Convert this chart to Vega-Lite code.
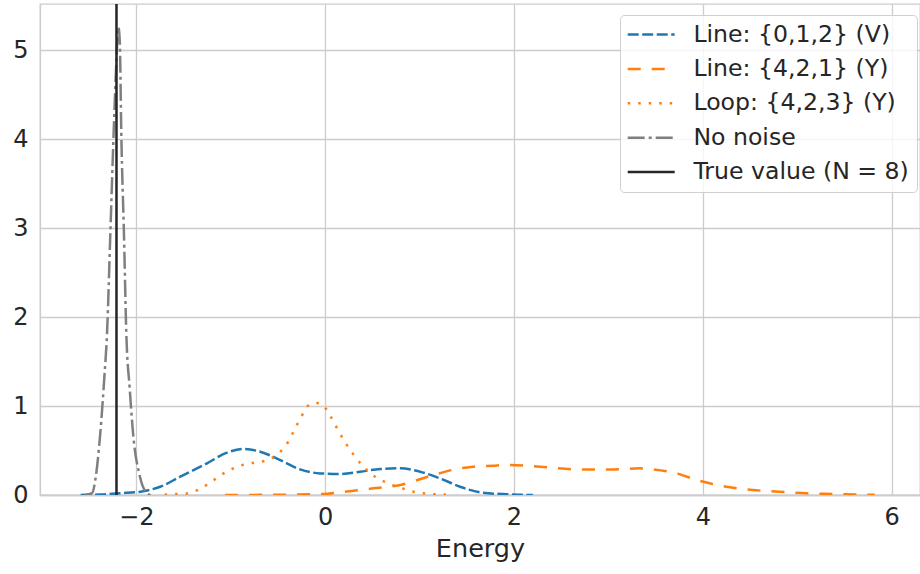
{
  "$schema": "https://vega.github.io/schema/vega-lite/v6.json",
  "width": 880,
  "height": 491,
  "autosize": {"type": "none"},
  "padding": {"left": 40, "top": 4, "right": 0, "bottom": 79},
  "background": "white",
  "config": {
    "font": "DejaVu Sans",
    "view": {"stroke": "#cccccc", "strokeWidth": 1.3},
    "axis": {
      "labelFont": "DejaVu Sans", "titleFont": "DejaVu Sans",
      "labelFontSize": 24, "titleFontSize": 25.5,
      "labelColor": "#262626", "titleColor": "#262626",
      "titleFontWeight": "normal",
      "gridColor": "#cccccc", "gridWidth": 1.3,
      "domainColor": "#cccccc", "domainWidth": 1.3,
      "ticks": false
    }
  },
  "datasets": {
    "curves": [
      {"series": "Line: {0,1,2} (V)", "x": -2.59, "y": 0},
      {"series": "Line: {0,1,2} (V)", "x": -2.38, "y": 0.005},
      {"series": "Line: {0,1,2} (V)", "x": -2.17, "y": 0.02},
      {"series": "Line: {0,1,2} (V)", "x": -1.958, "y": 0.037},
      {"series": "Line: {0,1,2} (V)", "x": -1.746, "y": 0.093},
      {"series": "Line: {0,1,2} (V)", "x": -1.534, "y": 0.206},
      {"series": "Line: {0,1,2} (V)", "x": -1.252, "y": 0.356},
      {"series": "Line: {0,1,2} (V)", "x": -1.04, "y": 0.476},
      {"series": "Line: {0,1,2} (V)", "x": -0.865, "y": 0.517},
      {"series": "Line: {0,1,2} (V)", "x": -0.688, "y": 0.487},
      {"series": "Line: {0,1,2} (V)", "x": -0.476, "y": 0.393},
      {"series": "Line: {0,1,2} (V)", "x": -0.265, "y": 0.288},
      {"series": "Line: {0,1,2} (V)", "x": -0.053, "y": 0.243},
      {"series": "Line: {0,1,2} (V)", "x": 0.159, "y": 0.236},
      {"series": "Line: {0,1,2} (V)", "x": 0.37, "y": 0.262},
      {"series": "Line: {0,1,2} (V)", "x": 0.582, "y": 0.292},
      {"series": "Line: {0,1,2} (V)", "x": 0.794, "y": 0.3},
      {"series": "Line: {0,1,2} (V)", "x": 1.005, "y": 0.262},
      {"series": "Line: {0,1,2} (V)", "x": 1.217, "y": 0.187},
      {"series": "Line: {0,1,2} (V)", "x": 1.429, "y": 0.093},
      {"series": "Line: {0,1,2} (V)", "x": 1.64, "y": 0.03},
      {"series": "Line: {0,1,2} (V)", "x": 1.923, "y": 0.008},
      {"series": "Line: {0,1,2} (V)", "x": 2.2, "y": 0},

      {"series": "Line: {4,2,1} (Y)", "x": -1.06, "y": 0},
      {"series": "Line: {4,2,1} (Y)", "x": -0.5, "y": 0.003},
      {"series": "Line: {4,2,1} (Y)", "x": 0.0, "y": 0.012},
      {"series": "Line: {4,2,1} (Y)", "x": 0.159, "y": 0.03},
      {"series": "Line: {4,2,1} (Y)", "x": 0.511, "y": 0.075},
      {"series": "Line: {4,2,1} (Y)", "x": 0.794, "y": 0.112},
      {"series": "Line: {4,2,1} (Y)", "x": 1.146, "y": 0.225},
      {"series": "Line: {4,2,1} (Y)", "x": 1.429, "y": 0.3},
      {"series": "Line: {4,2,1} (Y)", "x": 1.57, "y": 0.318},
      {"series": "Line: {4,2,1} (Y)", "x": 1.78, "y": 0.33},
      {"series": "Line: {4,2,1} (Y)", "x": 1.92, "y": 0.337},
      {"series": "Line: {4,2,1} (Y)", "x": 2.275, "y": 0.318},
      {"series": "Line: {4,2,1} (Y)", "x": 2.698, "y": 0.288},
      {"series": "Line: {4,2,1} (Y)", "x": 3.05, "y": 0.288},
      {"series": "Line: {4,2,1} (Y)", "x": 3.333, "y": 0.3},
      {"series": "Line: {4,2,1} (Y)", "x": 3.47, "y": 0.288},
      {"series": "Line: {4,2,1} (Y)", "x": 3.72, "y": 0.243},
      {"series": "Line: {4,2,1} (Y)", "x": 3.96, "y": 0.161},
      {"series": "Line: {4,2,1} (Y)", "x": 4.25, "y": 0.093},
      {"series": "Line: {4,2,1} (Y)", "x": 4.53, "y": 0.056},
      {"series": "Line: {4,2,1} (Y)", "x": 4.81, "y": 0.037},
      {"series": "Line: {4,2,1} (Y)", "x": 5.1, "y": 0.019},
      {"series": "Line: {4,2,1} (Y)", "x": 5.38, "y": 0.011},
      {"series": "Line: {4,2,1} (Y)", "x": 5.73, "y": 0.004},
      {"series": "Line: {4,2,1} (Y)", "x": 5.82, "y": 0.002},

      {"series": "Loop: {4,2,3} (Y)", "x": -1.7, "y": 0.002},
      {"series": "Loop: {4,2,3} (Y)", "x": -1.64, "y": 0.008},
      {"series": "Loop: {4,2,3} (Y)", "x": -1.48, "y": 0.015},
      {"series": "Loop: {4,2,3} (Y)", "x": -1.34, "y": 0.06},
      {"series": "Loop: {4,2,3} (Y)", "x": -1.21, "y": 0.146},
      {"series": "Loop: {4,2,3} (Y)", "x": -1.08, "y": 0.24},
      {"series": "Loop: {4,2,3} (Y)", "x": -0.94, "y": 0.315},
      {"series": "Loop: {4,2,3} (Y)", "x": -0.794, "y": 0.356},
      {"series": "Loop: {4,2,3} (Y)", "x": -0.635, "y": 0.385},
      {"series": "Loop: {4,2,3} (Y)", "x": -0.494, "y": 0.468},
      {"series": "Loop: {4,2,3} (Y)", "x": -0.397, "y": 0.59},
      {"series": "Loop: {4,2,3} (Y)", "x": -0.323, "y": 0.738},
      {"series": "Loop: {4,2,3} (Y)", "x": -0.249, "y": 0.888},
      {"series": "Loop: {4,2,3} (Y)", "x": -0.16, "y": 1.022},
      {"series": "Loop: {4,2,3} (Y)", "x": -0.09, "y": 1.035},
      {"series": "Loop: {4,2,3} (Y)", "x": -0.025, "y": 1.011},
      {"series": "Loop: {4,2,3} (Y)", "x": 0.063, "y": 0.873},
      {"series": "Loop: {4,2,3} (Y)", "x": 0.141, "y": 0.722},
      {"series": "Loop: {4,2,3} (Y)", "x": 0.219, "y": 0.58},
      {"series": "Loop: {4,2,3} (Y)", "x": 0.307, "y": 0.446},
      {"series": "Loop: {4,2,3} (Y)", "x": 0.406, "y": 0.318},
      {"series": "Loop: {4,2,3} (Y)", "x": 0.529, "y": 0.206},
      {"series": "Loop: {4,2,3} (Y)", "x": 0.67, "y": 0.131},
      {"series": "Loop: {4,2,3} (Y)", "x": 0.818, "y": 0.075},
      {"series": "Loop: {4,2,3} (Y)", "x": 0.963, "y": 0.03},
      {"series": "Loop: {4,2,3} (Y)", "x": 1.122, "y": 0.011},
      {"series": "Loop: {4,2,3} (Y)", "x": 1.28, "y": 0.004},

      {"series": "No noise", "x": -2.55, "y": 0},
      {"series": "No noise", "x": -2.469, "y": 0.02},
      {"series": "No noise", "x": -2.43, "y": 0.2},
      {"series": "No noise", "x": -2.381, "y": 0.7},
      {"series": "No noise", "x": -2.34, "y": 1.3},
      {"series": "No noise", "x": -2.31, "y": 1.82},
      {"series": "No noise", "x": -2.275, "y": 2.94},
      {"series": "No noise", "x": -2.24, "y": 4.07},
      {"series": "No noise", "x": -2.21, "y": 4.9},
      {"series": "No noise", "x": -2.19, "y": 5.26},
      {"series": "No noise", "x": -2.175, "y": 5.1},
      {"series": "No noise", "x": -2.159, "y": 4.07},
      {"series": "No noise", "x": -2.13, "y": 2.9},
      {"series": "No noise", "x": -2.106, "y": 1.82},
      {"series": "No noise", "x": -2.07, "y": 1.2},
      {"series": "No noise", "x": -2.035, "y": 0.7},
      {"series": "No noise", "x": -1.96, "y": 0.2},
      {"series": "No noise", "x": -1.887, "y": 0.02},
      {"series": "No noise", "x": -1.85, "y": 0}
    ],
    "truth": [
      {"series": "True value (N = 8)", "x": -2.21}
    ]
  },
  "layer": [
    {
      "data": {"name": "curves"},
      "mark": {"type": "line", "strokeWidth": 2.5, "interpolate": "monotone", "clip": true},
      "encoding": {
        "x": {"field": "x", "type": "quantitative", "title": "Energy",
              "scale": {"domain": [-3.02, 6.3], "nice": false, "zero": false},
              "axis": {"values": [-2, 0, 2, 4, 6], "labelPadding": 10, "titlePadding": 7, "format": "d", "labelExpr": "replace(datum.label, '-', '\u2212')"}},
        "y": {"field": "y", "type": "quantitative", "title": null,
              "scale": {"domain": [0, 5.52], "nice": false},
              "axis": {"values": [0, 1, 2, 3, 4, 5], "labelPadding": 12}},
        "color": {"field": "series", "type": "nominal", "title": null,
                  "scale": {"domain": ["Line: {0,1,2} (V)", "Line: {4,2,1} (Y)", "Loop: {4,2,3} (Y)", "No noise", "True value (N = 8)"],
                            "range": ["#1f77b4", "#ff7f0e", "#ff7f0e", "#7f7f7f", "#262626"]},
                  "legend": {
                    "orient": "none", "legendX": 580, "legendY": 11,
                    "symbolType": "M-4,0H4", "symbolSize": 138, "symbolStrokeWidth": 2.5,
                    "symbolOffset": 11.7,
                    "labelFontSize": 23.6, "labelFont": "DejaVu Sans", "labelColor": "#262626",
                    "labelLimit": 400, "labelOffset": 30.4,
                    "fillColor": "rgba(255,255,255,0.8)", "strokeColor": "#d0d0d0",
                    "cornerRadius": 4, "padding": 7.7, "rowPadding": 9.4
                  }},
        "strokeDash": {"field": "series", "type": "nominal", "title": null,
                  "scale": {"domain": ["Line: {0,1,2} (V)", "Line: {4,2,1} (Y)", "Loop: {4,2,3} (Y)", "No noise", "True value (N = 8)"],
                            "range": [[11, 3.5], [13, 11], [2.5, 8], [17, 4, 3, 4], [1, 0]]}},
        "order": {"field": "x", "type": "quantitative"}
      }
    },
    {
      "data": {"name": "truth"},
      "mark": {"type": "rule", "strokeWidth": 2.5},
      "encoding": {
        "x": {"field": "x", "type": "quantitative"},
        "color": {"field": "series", "type": "nominal"},
        "strokeDash": {"field": "series", "type": "nominal"}
      }
    }
  ]
}
